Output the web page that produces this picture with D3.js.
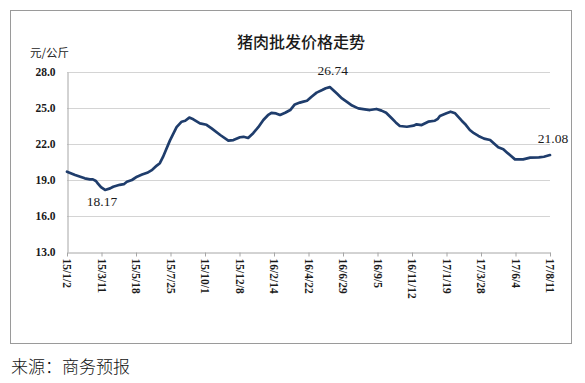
<!DOCTYPE html>
<html><head><meta charset="utf-8">
<script src="https://cdn.jsdelivr.net/npm/d3@7/dist/d3.min.js"></script>
<style>body{margin:0;background:#fff}svg{display:block}</style>
</head><body>
<svg id="c" width="585" height="383"></svg>
<script>
const title = "猪肉批发价格走势";
const unitLabel = "元/公斤";
const sourceLabel = "来源：商务预报";
const tickLabels = ["15/1/2","15/3/11","15/5/18","15/7/25","15/10/1","15/12/8","16/2/14","16/4/22","16/6/29","16/9/5","16/11/12","17/1/19","17/3/28","17/6/4","17/8/11"];
const yTicks = [13,16,19,22,25,28];
const dates = ["2015-01-02","2015-01-18","2015-02-06","2015-02-16","2015-02-22","2015-02-28","2015-03-04","2015-03-10","2015-03-18","2015-03-28","2015-04-03","2015-04-16","2015-04-24","2015-04-30","2015-05-10","2015-05-20","2015-05-30","2015-06-09","2015-06-19","2015-06-28","2015-07-04","2015-07-10","2015-07-16","2015-07-24","2015-08-06","2015-08-16","2015-08-23","2015-08-31","2015-09-08","2015-09-21","2015-10-04","2015-10-14","2015-10-31","2015-11-16","2015-11-26","2015-12-09","2015-12-16","2015-12-25","2016-01-04","2016-01-14","2016-01-24","2016-02-02","2016-02-09","2016-02-18","2016-02-26","2016-03-07","2016-03-17","2016-03-26","2016-04-05","2016-04-12","2016-04-19","2016-04-28","2016-05-08","2016-05-19","2016-05-26","2016-06-03","2016-06-17","2016-06-27","2016-07-06","2016-07-17","2016-07-29","2016-08-11","2016-08-21","2016-09-03","2016-09-13","2016-09-22","2016-10-03","2016-10-11","2016-10-19","2016-11-02","2016-11-15","2016-11-21","2016-12-01","2016-12-14","2016-12-27","2017-01-02","2017-01-06","2017-01-19","2017-01-27","2017-02-05","2017-02-18","2017-02-26","2017-03-06","2017-03-14","2017-03-23","2017-04-03","2017-04-15","2017-04-21","2017-05-01","2017-05-11","2017-05-18","2017-05-24","2017-06-03","2017-06-19","2017-07-03","2017-07-20","2017-07-30","2017-08-11"];
const prices = [19.69,19.42,19.14,19.05,19.05,18.92,18.7,18.4,18.17,18.3,18.44,18.6,18.65,18.85,19.0,19.28,19.45,19.6,19.85,20.2,20.4,20.9,21.5,22.3,23.4,23.86,23.94,24.2,24.06,23.72,23.6,23.3,22.75,22.28,22.33,22.56,22.6,22.5,22.9,23.4,24.0,24.4,24.6,24.55,24.42,24.6,24.83,25.3,25.45,25.53,25.6,25.94,26.28,26.5,26.65,26.74,26.2,25.8,25.53,25.2,24.97,24.89,24.83,24.92,24.78,24.6,24.14,23.8,23.5,23.44,23.53,23.64,23.58,23.86,23.94,24.1,24.33,24.56,24.69,24.56,23.94,23.6,23.17,22.9,22.67,22.45,22.33,22.1,21.72,21.56,21.3,21.08,20.72,20.72,20.86,20.89,20.94,21.08];
const annotations = [{date:"2015-03-18", value:18.17, pos:"below"},{date:"2016-06-03", value:26.74, pos:"above"},{date:"2017-08-11", value:21.08, pos:"above"}];

const parse = d3.timeParse("%Y-%m-%d");
const tickDates = tickLabels.map(t => { const p = t.split("/"); return new Date(2000 + +p[0], +p[1]-1, +p[2]); });
const data = dates.map((d,i) => ({date: parse(d), value: prices[i]}));

const svg = d3.select("#c");
const L = 67, R = 550, T = 72, B = 252;
const x = d3.scaleTime().domain([tickDates[0], tickDates[tickDates.length-1]]).range([L, R]);
const y = d3.scaleLinear().domain([13, 28]).range([B, T]);

svg.append("rect").attr("x",10.5).attr("y",10.5).attr("width",561).attr("height",333)
  .attr("fill","none").attr("stroke","#9a9a9a").attr("stroke-width",1);

// gridlines
svg.append("g").selectAll("line").data(yTicks.slice(1)).join("line")
  .attr("x1", L).attr("x2", R).attr("y1", d => Math.round(y(d))+0.5).attr("y2", d => Math.round(y(d))+0.5)
  .attr("stroke","#d4d4d4").attr("stroke-width",1.2);

// y axis
const yAxis = svg.append("g").attr("transform",`translate(${L+0.5},0)`)
  .call(d3.axisLeft(y).tickValues(yTicks).tickSize(0).tickPadding(12).tickFormat(d3.format(".1f")));
yAxis.select(".domain").attr("stroke","#a6a6a6");
yAxis.selectAll("text").attr("font-family","'Liberation Serif','Times New Roman',serif")
  .attr("font-size","11.5px").attr("font-weight","bold").attr("fill","#1a1a1a");

// x axis
const xAxis = svg.append("g").attr("transform",`translate(0,${B+0.5})`)
  .call(d3.axisBottom(x).tickValues(tickDates).tickSize(4).tickSizeOuter(0).tickFormat((d,i) => tickLabels[i]));
xAxis.select(".domain").attr("stroke","#a6a6a6");
xAxis.selectAll(".tick line").attr("stroke","#a6a6a6");
xAxis.selectAll("text")
  .attr("font-family","'Liberation Serif','Times New Roman',serif")
  .attr("font-size","11.5px").attr("font-weight","bold").attr("fill","#1a1a1a")
  .attr("text-anchor","start").attr("dy","0.35em")
  .attr("transform","rotate(90)").attr("x",6).attr("y",0);

// line
const line = d3.line().x(d => x(d.date)).y(d => y(d.value));
svg.append("path").datum(data).attr("d", line)
  .attr("fill","none").attr("stroke","#1f3d6c").attr("stroke-width",2.7)
  .attr("stroke-linejoin","round").attr("stroke-linecap","round");

// annotations
svg.append("g").selectAll("text").data(annotations).join("text")
  .attr("x", d => x(parse(d.date)) + (d.pos==="below" ? -3 : 3))
  .attr("y", d => d.pos==="below" ? y(d.value)+16 : y(d.value)-12)
  .attr("text-anchor","middle")
  .attr("font-family","'Liberation Serif','Times New Roman',serif")
  .attr("font-size","13.5px").attr("fill","#1a1a1a")
  .text(d => d.value.toFixed(2));

// title & labels
svg.append("text").attr("x",301).attr("y",48).attr("text-anchor","middle")
  .attr("font-family","'Noto Sans CJK SC',sans-serif").attr("font-size","16px").attr("font-weight","500")
  .attr("fill","#1a1a1a").text(title);
svg.append("text").attr("x",30).attr("y",57)
  .attr("font-family","'Noto Sans CJK SC',sans-serif").attr("font-size","11.5px")
  .attr("fill","#1a1a1a").text(unitLabel);
svg.append("text").attr("x",11).attr("y",373)
  .attr("font-family","'Noto Sans CJK SC',sans-serif").attr("font-size","17px").attr("font-weight","300")
  .attr("fill","#111").text(sourceLabel);
</script>
</body></html>
